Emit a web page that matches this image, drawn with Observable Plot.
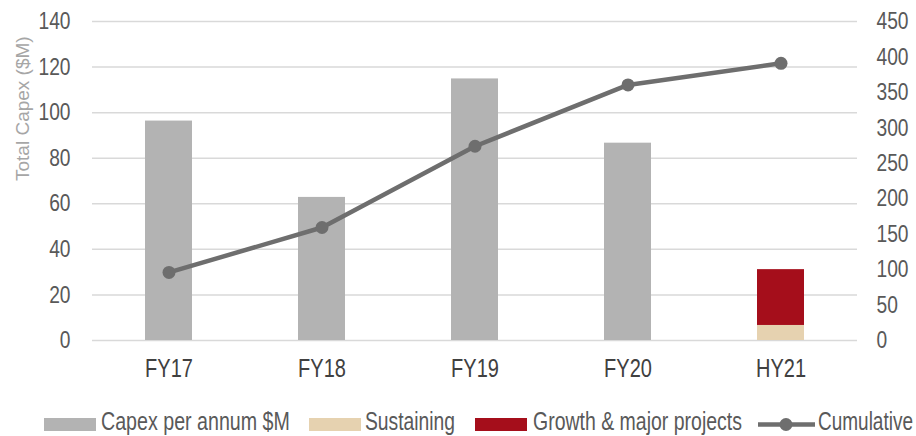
<!DOCTYPE html>
<html>
<head>
<meta charset="utf-8">
<script src="https://cdn.jsdelivr.net/npm/d3@7"></script>
<script src="https://cdn.jsdelivr.net/npm/@observablehq/plot@0.6"></script>
<style>
  html, body { margin: 0; padding: 0; background: #fff; }
  #wrap { position: relative; width: 916px; height: 436px; font-family: "Liberation Sans", Arial, sans-serif; }
  #chart svg { display: block; }
  #legend { display: block; }
</style>
</head>
<body>
<div id="wrap">
  <div id="chart"></div>
  <svg id="legend" width="916" height="36"></svg>
</div>
<script>
const categories = ["FY17", "FY18", "FY19", "FY20", "HY21"];
const capexPerAnnum = [96.3, 62.8, 114.8, 86.6, null];
const sustaining = [null, null, null, null, 6.6];
const growth = [null, null, null, null, 24.5];
const cumulative = [96, 159.4, 274, 360.5, 391];
const leftTicks = [0, 20, 40, 60, 80, 100, 120, 140];
const rightTicks = [0, 50, 100, 150, 200, 250, 300, 350, 400, 450];
const legendLabels = ["Capex per annum $M", "Sustaining", "Growth & major projects", "Cumulative"];

const leftMax = 140, rightMax = 450;
const k = leftMax / rightMax;

const colors = { capex: "#b3b3b3", sust: "#e6d2b0", growth: "#a50e1b", line: "#6e6e6e" };

const stackRows = [];
categories.forEach((c, i) => {
  if (capexPerAnnum[i] != null) stackRows.push({ cat: c, series: "capex", v: capexPerAnnum[i] });
  if (sustaining[i] != null) stackRows.push({ cat: c, series: "sust", v: sustaining[i] });
  if (growth[i] != null) stackRows.push({ cat: c, series: "growth", v: growth[i] });
});
const lineRows = categories.map((c, i) => ({ cat: c, v: cumulative[i] }));

const font = '"Liberation Sans", Arial, sans-serif';
const title = "Total Capex ($M)";

const chart = Plot.plot({
  width: 916,
  height: 400,
  marginLeft: 92,
  marginRight: 59,
  marginTop: 21,
  marginBottom: 60,
  style: { fontFamily: font, fontSize: "24px", color: "#595959", background: "#fff" },
  x: { type: "band", domain: categories, paddingInner: 0.69, paddingOuter: 0.345, axis: null },
  y: { domain: [0, leftMax], axis: null },
  marks: [
    Plot.ruleY(leftTicks, { stroke: "#d9d9d9", strokeWidth: 1.5 }),
    Plot.barY(stackRows, Plot.stackY({
      x: "cat", y: "v", z: "series",
      order: ["capex", "sust", "growth"],
      fill: d => colors[d.series]
    })),
    Plot.line(lineRows, { x: "cat", y: d => d.v * k, stroke: colors.line, strokeWidth: 4.5 }),
    Plot.dot(lineRows, { x: "cat", y: d => d.v * k, r: 6.5, fill: colors.line, stroke: "none" }),
    Plot.axisY(leftTicks, { anchor: "left", tickSize: 0, tickPadding: 22, fontSize: 24, fill: "#595959", label: null }),
    Plot.axisY(rightTicks, { y: d => d * k, text: d => String(d), anchor: "right", tickSize: 0, tickPadding: 19, textAnchor: "start", fontSize: 24, fill: "#595959", label: null }),
    Plot.axisX(categories, { anchor: "bottom", tickSize: 0, tickPadding: 19, fontSize: 25, fill: "#404040", label: null }),
    Plot.text([title], { frameAnchor: "left", dx: -70, rotate: -90, fontSize: 19, fill: "#a6a6a6", text: d => d })
  ]
});
document.getElementById("chart").appendChild(chart);

// emulate the narrow font of the original: compress tick labels horizontally
chart.querySelectorAll("text").forEach(t => {
  if (t.textContent === title) return;
  const tr = t.getAttribute("transform");
  if (tr) t.setAttribute("transform", tr + " scale(0.8,1)");
  else t.setAttribute("transform", "scale(0.8,1)");
});

// legend (below the plot)
const legendLayout = [
  { type: "rect", color: colors.capex, sx: 44, tx: 101, tw: 189 },
  { type: "rect", color: colors.sust, sx: 309, tx: 365, tw: 90 },
  { type: "rect", color: colors.growth, sx: 475, tx: 533, tw: 209 },
  { type: "line", color: colors.line, sx: 758, tx: 818, tw: 95 }
];
const leg = d3.select("#legend");
legendLayout.forEach((it, i) => {
  if (it.type === "rect") {
    leg.append("rect").attr("x", it.sx).attr("y", 18).attr("width", 52).attr("height", 13).attr("fill", it.color);
  } else {
    leg.append("line").attr("x1", it.sx).attr("x2", it.sx + 57).attr("y1", 24.5).attr("y2", 24.5)
      .attr("stroke", it.color).attr("stroke-width", 4.5);
    leg.append("circle").attr("cx", it.sx + 28).attr("cy", 24.5).attr("r", 6.5).attr("fill", it.color);
  }
  const t = leg.append("text")
    .attr("font-family", font).attr("font-size", 25).attr("fill", "#595959")
    .text(legendLabels[i]);
  const natural = t.node().getComputedTextLength() || it.tw;
  t.attr("transform", `translate(${it.tx},30) scale(${it.tw / natural},1)`);
});
</script>
</body>
</html>
